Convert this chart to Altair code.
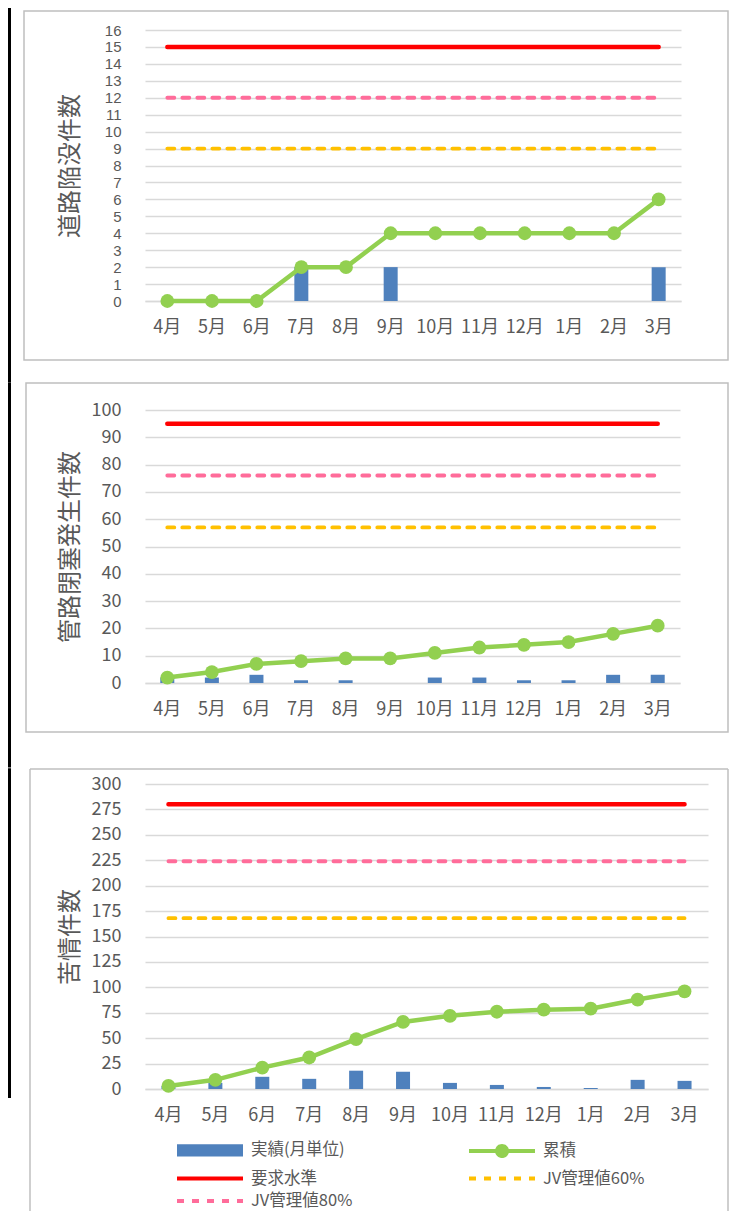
import altair as alt
import pandas as pd

# ---------------- data ----------------
months = ["4月", "5月", "6月", "7月", "8月", "9月", "10月", "11月", "12月", "1月", "2月", "3月"]

series_names = ["実績(月単位)", "累積", "要求水準", "JV管理値60%", "JV管理値80%"]
series_colors = ["#4F81BD", "#92D050", "#FF0000", "#FFC000", "#FF6C9A"]

# panel 1: 道路陥没件数
road_monthly = [0, 0, 0, 2, 0, 2, 0, 0, 0, 0, 0, 2]
road_cumulative = [0, 0, 0, 2, 2, 4, 4, 4, 4, 4, 4, 6]
road_levels = [15, 9, 12]          # 要求水準, JV60%, JV80%
road_ticks = [0, 1, 2, 3, 4, 5, 6, 7, 8, 9, 10, 11, 12, 13, 14, 15, 16]

# panel 2: 管路閉塞発生件数
pipe_monthly = [2, 2, 3, 1, 1, 0, 2, 2, 1, 1, 3, 3]
pipe_cumulative = [2, 4, 7, 8, 9, 9, 11, 13, 14, 15, 18, 21]
pipe_levels = [95, 57, 76]
pipe_ticks = [0, 10, 20, 30, 40, 50, 60, 70, 80, 90, 100]

# panel 3: 苦情件数
claim_monthly = [3, 6, 12, 10, 18, 17, 6, 4, 2, 1, 9, 8]
claim_cumulative = [3, 9, 21, 31, 49, 66, 72, 76, 78, 79, 88, 96]
claim_levels = [280, 168, 224]
claim_ticks = [0, 25, 50, 75, 100, 125, 150, 175, 200, 225, 250, 275, 300]

# ---------------- style ----------------
FONT = "Noto Sans CJK JP"
GRAY = "#595959"
GRID = "#D9D9D9"
FRAME = "#BFBFBF"
DASH = [7, 8]
SOLID = [1, 0]

fill_scale = alt.Scale(domain=series_names,
                       range=[series_colors[0], series_colors[1], "transparent", "transparent", "transparent"])
stroke_scale = alt.Scale(domain=series_names,
                         range=["transparent", series_colors[1], series_colors[2], series_colors[3], series_colors[4]])
dash_scale = alt.Scale(domain=series_names, range=[SOLID, SOLID, SOLID, DASH, DASH])
# legend symbol paths (unit = sqrt(symbolSize)/2 = 10px)
shape_scale = alt.Scale(domain=series_names, range=[
    "M-1,-0.62H5.6V0.62H-1Z",
    "M-1,0H5.6M1.8,0A0.5,0.5 0 1,0 2.8,0A0.5,0.5 0 1,0 1.8,0Z",
    "M-1,0H5.6", "M-1,0H5.6", "M-1,0H5.6"])


def legend_spec():
    return alt.Legend(
        title=None, orient="none", legendX=30, legendY=354, columns=2, direction="horizontal",
        columnPadding=108, rowPadding=1.5, symbolSize=400, symbolStrokeWidth=4,
        symbolOpacity=1, labelFontSize=16.5, labelColor=GRAY, labelFont=FONT,
        labelOffset=52, labelLimit=0)


def x_axis():
    return alt.Axis(title=None, labelAngle=0, ticks=False, domain=True, domainColor=GRID,
                    domainWidth=1.5, grid=False, labelPadding=17, labelFontSize=18,
                    labelColor=GRAY, labelFont=FONT, labelOverlap=False)


def y_axis(title, ticks, height, label_size, label_font):
    return alt.Axis(title=title, values=ticks, grid=True, gridColor=GRID, gridWidth=1.5,
                    domain=False, ticks=False, labelPadding=24, labelFontSize=label_size,
                    labelColor=GRAY, labelFont=label_font, labelOverlap=False, labelFlush=False,
                    titleFont=FONT, titleFontSize=24, titleFontWeight="normal",
                    titleColor=GRAY, titleAngle=270, titleX=-75, titleY=height / 2,
                    titleAlign="center", titleBaseline="middle")


def panel(monthly, cumulative, levels, ticks, title, width, height, frame, table_line,
          label_size=18, label_font=FONT, open_bottom=False, with_legend=False):
    xscale = alt.Scale(type="band", domain=months, paddingInner=0, paddingOuter=0)
    yscale = alt.Scale(domain=[ticks[0], ticks[-1]], nice=False, zero=True)
    xa = x_axis()
    ya = y_axis(title, ticks, height, label_size, label_font)
    leg = legend_spec() if with_legend else None

    bar_df = pd.DataFrame({"month": months, "value": monthly, "series": series_names[0]})
    cum_df = pd.DataFrame({"month": months, "value": cumulative, "series": series_names[1]})
    month_df = pd.DataFrame({"month": months})
    one = pd.DataFrame({"k": [0]})

    layers = []
    # edge of the neighbouring table (black vertical bar at the page's left)
    ty1, ty2 = table_line
    layers.append(alt.Chart(one).mark_rect(color="black", strokeWidth=0).encode(
        x=alt.value(-137), x2=alt.value(-134), y=alt.value(ty1), y2=alt.value(ty2)))

    x1, x2, y1, y2 = frame
    if open_bottom:
        for enc in (dict(x=alt.value(x1), y=alt.value(y1), y2=alt.value(y2)),
                    dict(x=alt.value(x2), y=alt.value(y1), y2=alt.value(y2)),
                    dict(x=alt.value(x1), x2=alt.value(x2), y=alt.value(y1))):
            layers.append(alt.Chart(one).mark_rule(color=FRAME, strokeWidth=1.5).encode(**enc))
    else:
        layers.append(alt.Chart(one).mark_rect(fill="transparent", stroke=FRAME, strokeWidth=1.5).encode(
            x=alt.value(x1), x2=alt.value(x2), y=alt.value(y1), y2=alt.value(y2)))

    X = alt.X("month:N", scale=xscale, axis=xa)
    Xc = alt.X("month:N", scale=xscale, axis=xa, bandPosition=0.5)

    layers.append(alt.Chart(bar_df).mark_bar(size=14, opacity=1).encode(
        x=X,
        y=alt.Y("value:Q", scale=yscale, axis=ya),
        fill=alt.Fill("series:N", scale=fill_scale, legend=leg)))

    for i in range(3):
        name = series_names[2 + i]
        layers.append(alt.Chart(month_df).transform_calculate(
            series=f"'{name}'").mark_line(
            strokeWidth=4.5 if i == 0 else 3.8, strokeCap="round", opacity=1).encode(
            x=Xc,
            y=alt.YDatum(levels[i], type="quantitative", scale=yscale, axis=ya),
            stroke=alt.Stroke("series:N", scale=stroke_scale, legend=leg),
            strokeDash=alt.StrokeDash("series:N", scale=dash_scale, legend=leg)))

    layers.append(alt.Chart(cum_df).mark_line(strokeWidth=4.5, opacity=1).encode(
        x=Xc,
        y=alt.Y("value:Q", scale=yscale, axis=ya),
        stroke=alt.Stroke("series:N", scale=stroke_scale, legend=leg)))
    layers.append(alt.Chart(cum_df).mark_circle(size=190, opacity=1).encode(
        x=Xc,
        y=alt.Y("value:Q", scale=yscale, axis=ya),
        fill=alt.Fill("series:N", scale=fill_scale, legend=leg)))

    if with_legend:
        # legend-only layer (draws no rows) that supplies the legend symbol shapes
        layers.append(alt.Chart(cum_df).transform_filter("false").mark_point(opacity=1).encode(
            x=Xc,
            y=alt.Y("value:Q", scale=yscale, axis=ya),
            shape=alt.Shape("series:N", scale=shape_scale, legend=leg)))

    return alt.layer(*layers).properties(width=width, height=height)


p1 = panel(road_monthly, road_cumulative, road_levels, road_ticks, "道路陥没件数",
           536, 271, (-121, 583, -19, 330), (-22, 352),
           label_size=15, label_font="Liberation Sans")
p2 = panel(pipe_monthly, pipe_cumulative, pipe_levels, pipe_ticks, "管路閉塞発生件数",
           535, 273, (-119, 583, -27, 322), (-27.75, 357.5))
p3 = panel(claim_monthly, claim_cumulative, claim_levels, claim_ticks, "苦情件数",
           563, 305, (-115, 583, -15, 427), (-15.75, 314),
           open_bottom=True, with_legend=True)

chart = alt.vconcat(p1, p2, p3, spacing=0).properties(
    padding={"left": 0, "top": 0, "right": 0, "bottom": 0}
).resolve_scale(
    fill="independent", stroke="independent", strokeDash="independent", shape="independent"
).resolve_legend(
    fill="independent", stroke="independent", strokeDash="independent", shape="independent"
).configure(font=FONT, background="white").configure_view(stroke=None)

chart.save("out.html", embed_options={"renderer": "svg", "actions": False})
